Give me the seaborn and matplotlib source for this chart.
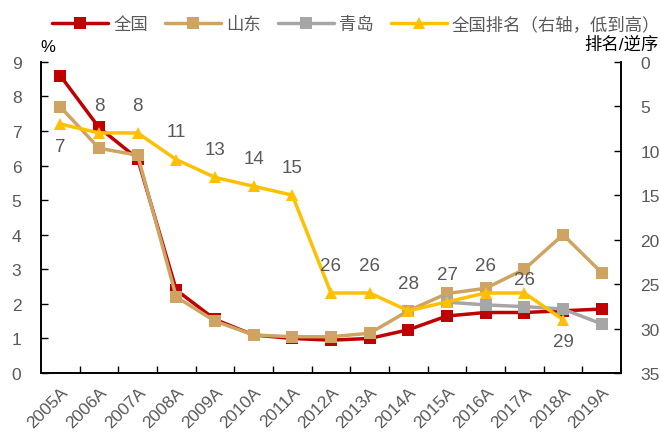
import matplotlib
matplotlib.use('Agg')
import matplotlib.pyplot as plt
import seaborn as sns
import numpy as np
import pandas as pd

years = ['2005A', '2006A', '2007A', '2008A', '2009A', '2010A', '2011A', '2012A',
         '2013A', '2014A', '2015A', '2016A', '2017A', '2018A', '2019A']
national = [8.6, 7.1, 6.2, 2.4, 1.55, 1.1, 1.0, 0.95, 1.0, 1.25, 1.65, 1.75, 1.75, 1.8, 1.85]
shandong = [7.7, 6.5, 6.3, 2.2, 1.5, 1.1, 1.05, 1.05, 1.15, 1.8, 2.3, 2.45, 3.0, 4.0, 2.9]
qingdao = [np.nan] * 10 + [2.05, 1.97, 1.92, 1.85, 1.42]
rank = [7, 8, 8, 11, 13, 14, 15, 26, 26, 28, 27, 26, 26, 29, np.nan]

sns.set_theme(style='white')
plt.rcParams['font.family'] = ['Liberation Sans', 'Noto Sans CJK SC', 'DejaVu Sans']
plt.rcParams['axes.unicode_minus'] = False

grey = '#595959'
c_nat, c_sd, c_qd, c_rk = '#C00000', '#CFA462', '#A6A6A6', '#FFC000'

df = pd.DataFrame({'x': np.arange(len(years)), 'national': national,
                   'shandong': shandong, 'qingdao': qingdao, 'rank': rank})

fig = plt.figure(figsize=(6.6, 4.39), dpi=100)
ax = fig.add_axes([0.062, 0.148, 0.879, 0.709])
ax2 = ax.twinx()

sns.lineplot(data=df, x='x', y='national', ax=ax, color=c_nat, lw=2.5,
             marker='s', markersize=8, markeredgewidth=0, label='全国', legend=False)
sns.lineplot(data=df, x='x', y='shandong', ax=ax, color=c_sd, lw=2.5,
             marker='s', markersize=8, markeredgewidth=0, label='山东', legend=False)
sns.lineplot(data=df, x='x', y='qingdao', ax=ax, color=c_qd, lw=2.5,
             marker='s', markersize=8, markeredgewidth=0, label='青岛', legend=False)
sns.lineplot(data=df, x='x', y='rank', ax=ax2, color=c_rk, lw=2.5,
             marker='^', markersize=9, markeredgewidth=0, label='全国排名（右轴，低到高）', legend=False)

# rank labels: most above the point, first and 2018 below
for i, r in enumerate(rank):
    if np.isnan(r):
        continue
    if i in (0, 13):
        dy = -16
    elif i == 12:
        dy = 10
    else:
        dy = 20
    ax2.annotate(f'{int(r)}', (i, r), xytext=(0, dy),
                 textcoords='offset points', ha='center', va='center',
                 fontsize=13.5, color=grey)

ax.set_xlim(-0.5, len(years) - 0.5)
ax.set_ylim(0, 9)
ax.set_yticks(range(0, 10))
ax2.set_ylim(35, 0)
ax2.set_yticks(range(0, 36, 5))

ax.set_xticks(df['x'])
ax.set_xticklabels(years, rotation=45, ha='right', rotation_mode='anchor')
ax.set_xticks(np.arange(0.5, len(years) - 0.5, 1), minor=True)
ax.tick_params(axis='x', which='major', length=0, labelsize=12.5, labelcolor=grey, pad=8)
ax.tick_params(axis='x', which='minor', direction='in', length=5, width=1, color='black', bottom=True)
ax.tick_params(axis='y', direction='in', length=5, width=1, color='black', left=True,
               labelsize=12.5, labelcolor=grey, pad=14)
ax2.tick_params(axis='y', direction='in', length=5, width=1, color='black', right=True,
                labelsize=12.5, labelcolor=grey, pad=14)
ax.set_xlabel('')
ax.set_ylabel('')
ax2.set_ylabel('')

for a in (ax, ax2):
    for s in a.spines.values():
        s.set_color('black')
        s.set_linewidth(1.2)
    a.spines['top'].set_visible(False)

fig.text(0.072, 0.875, '%', ha='center', va='bottom', fontsize=12, color='black')
fig.text(0.998, 0.88, '排名/逆序', ha='right', va='bottom', fontsize=12.5, color='black')

h1, l1 = ax.get_legend_handles_labels()
h2, l2 = ax2.get_legend_handles_labels()
fig.legend(h1 + h2, l1 + l2, loc='upper center', bbox_to_anchor=(0.54, 0.998), ncol=4,
           frameon=False, fontsize=12.5, handlelength=3.2, columnspacing=1.0,
           handletextpad=0.3, labelcolor=grey)

fig.savefig('out.png', dpi=100)
